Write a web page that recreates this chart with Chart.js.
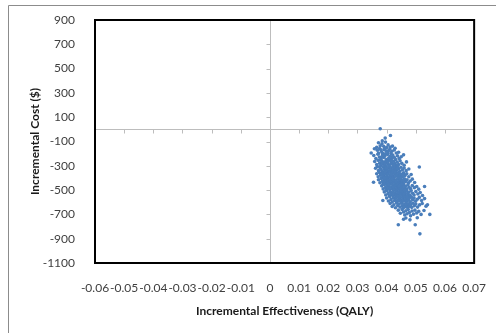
<!DOCTYPE html>
<html>
<head>
<meta charset="utf-8">
<script src="https://cdn.jsdelivr.net/npm/chart.js@4.4.1/dist/chart.umd.min.js"></script>
<style>
  html, body { margin: 0; padding: 0; background: #fff; overflow: hidden; }
  canvas { display: block; }
</style>
</head>
<body>
<canvas id="chart" width="496" height="333"></canvas>
<script>
const xTicks = [-0.06, -0.05, -0.04, -0.03, -0.02, -0.01, 0, 0.01, 0.02, 0.03, 0.04, 0.05, 0.06, 0.07];
const xTickLabels = ["-0.06", "-0.05", "-0.04", "-0.03", "-0.02", "-0.01", "0", "0.01", "0.02", "0.03", "0.04", "0.05", "0.06", "0.07"];
const yTicks = [-1100, -900, -700, -500, -300, -100, 100, 300, 500, 700, 900];

// incremental effectiveness (QALY) of each simulation
const qaly = [
  0.0378, 0.0395, 0.0413, 0.0385,
  0.0372, 0.0384, 0.0396, 0.0405, 0.0378, 0.0390, 0.0412, 0.0366, 0.0400, 0.0420,
  0.0358, 0.0368, 0.0376, 0.0383, 0.0391, 0.0398, 0.0404, 0.0411, 0.0418, 0.0426, 0.0433, 0.0441, 0.0372, 0.0387, 0.0395, 0.0407, 0.0380, 0.0415, 0.0347, 0.0429,
  0.0356, 0.0363, 0.0370, 0.0375, 0.0381, 0.0386, 0.0390, 0.0394, 0.0399, 0.0403, 0.0407, 0.0412, 0.0416, 0.0421, 0.0426, 0.0431, 0.0437, 0.0443, 0.0450, 0.0458, 0.0378, 0.0396, 0.0410, 0.0384, 0.0419,
  0.0359, 0.0366, 0.0371, 0.0376, 0.0380, 0.0384, 0.0388, 0.0391, 0.0395, 0.0398, 0.0402, 0.0405, 0.0409, 0.0413, 0.0416, 0.0420, 0.0424, 0.0428, 0.0432, 0.0436, 0.0441, 0.0446, 0.0452, 0.0460, 0.0468, 0.0393, 0.0407, 0.0418, 0.0426, 0.0385,
  0.0362, 0.0368, 0.0372, 0.0377, 0.0381, 0.0385, 0.0388, 0.0391, 0.0394, 0.0397, 0.0400, 0.0403, 0.0406, 0.0409, 0.0412, 0.0415, 0.0418, 0.0421, 0.0424, 0.0427, 0.0430, 0.0433, 0.0437, 0.0441, 0.0445, 0.0449, 0.0454, 0.0460, 0.0467, 0.0476, 0.0512, 0.0398, 0.0411, 0.0422, 0.0436,
  0.0366, 0.0371, 0.0375, 0.0379, 0.0383, 0.0386, 0.0389, 0.0392, 0.0395, 0.0398, 0.0401, 0.0404, 0.0407, 0.0410, 0.0413, 0.0416, 0.0419, 0.0422, 0.0425, 0.0428, 0.0431, 0.0434, 0.0437, 0.0440, 0.0443, 0.0446, 0.0450, 0.0454, 0.0458, 0.0463, 0.0469, 0.0476, 0.0484, 0.0402, 0.0417, 0.0429, 0.0444, 0.0393, 0.0381, 0.0455,
  0.0355, 0.0372, 0.0377, 0.0381, 0.0385, 0.0388, 0.0391, 0.0394, 0.0397, 0.0400, 0.0403, 0.0406, 0.0409, 0.0412, 0.0415, 0.0418, 0.0421, 0.0424, 0.0427, 0.0430, 0.0433, 0.0436, 0.0439, 0.0442, 0.0445, 0.0448, 0.0451, 0.0454, 0.0457, 0.0461, 0.0465, 0.0470, 0.0475, 0.0481, 0.0488, 0.0496, 0.0404, 0.0419, 0.0432, 0.0447, 0.0460, 0.0395, 0.0413,
  0.0383, 0.0388, 0.0392, 0.0396, 0.0399, 0.0402, 0.0405, 0.0408, 0.0411, 0.0414, 0.0417, 0.0420, 0.0423, 0.0426, 0.0429, 0.0432, 0.0435, 0.0438, 0.0441, 0.0444, 0.0447, 0.0450, 0.0453, 0.0456, 0.0459, 0.0462, 0.0465, 0.0469, 0.0473, 0.0477, 0.0482, 0.0488, 0.0495, 0.0503, 0.0510, 0.0530, 0.0407, 0.0421, 0.0436, 0.0451, 0.0466, 0.0443,
  0.0392, 0.0397, 0.0401, 0.0405, 0.0409, 0.0412, 0.0415, 0.0418, 0.0421, 0.0424, 0.0427, 0.0430, 0.0433, 0.0436, 0.0439, 0.0442, 0.0445, 0.0448, 0.0451, 0.0454, 0.0457, 0.0460, 0.0463, 0.0466, 0.0469, 0.0472, 0.0476, 0.0480, 0.0484, 0.0489, 0.0494, 0.0500, 0.0507, 0.0515, 0.0523, 0.0431, 0.0447, 0.0462, 0.0478, 0.0440,
  0.0400, 0.0406, 0.0411, 0.0415, 0.0419, 0.0423, 0.0427, 0.0431, 0.0435, 0.0438, 0.0441, 0.0444, 0.0447, 0.0450, 0.0453, 0.0456, 0.0459, 0.0462, 0.0465, 0.0468, 0.0471, 0.0474, 0.0477, 0.0481, 0.0485, 0.0489, 0.0494, 0.0499, 0.0505, 0.0512, 0.0520, 0.0530, 0.0387, 0.0455, 0.0470,
  0.0412, 0.0419, 0.0425, 0.0430, 0.0434, 0.0438, 0.0442, 0.0446, 0.0450, 0.0454, 0.0457, 0.0460, 0.0463, 0.0466, 0.0469, 0.0472, 0.0475, 0.0478, 0.0482, 0.0486, 0.0490, 0.0495, 0.0500, 0.0506, 0.0513, 0.0522, 0.0535, 0.0540,
  0.0440, 0.0447, 0.0453, 0.0458, 0.0462, 0.0466, 0.0470, 0.0474, 0.0478, 0.0482, 0.0487, 0.0492, 0.0497, 0.0503, 0.0510, 0.0518, 0.0528, 0.0548,
  0.0440, 0.0498, 0.0514, 0.0466, 0.0480, 0.0505, 0.0458
];

// incremental cost ($), same order as qaly
const cost = [
  5, -72, -50, -95,
  -110, -118, -105, -128, -135, -140, -145, -148, -150, -138,
  -160, -172, -158, -185, -165, -178, -192, -162, -180, -170, -195, -188, -196, -200, -155, -175, -168, -198, -195, -155,
  -215, -240, -205, -228, -245, -210, -232, -220, -248, -207, -236, -222, -244, -212, -230, -248, -218, -240, -226, -210, -250, -202, -248, -225, -235,
  -265, -290, -255, -278, -298, -262, -285, -270, -295, -258, -280, -266, -292, -255, -276, -288, -262, -282, -298, -270, -290, -258, -280, -295, -268, -282, -300, -262, -295, -275,
  -320, -305, -340, -315, -330, -348, -308, -325, -342, -312, -335, -320, -348, -305, -330, -318, -342, -310, -328, -345, -315, -336, -305, -325, -345, -312, -332, -318, -340, -326, -310, -318, -338, -348, -322,
  -365, -390, -355, -378, -398, -362, -385, -370, -395, -358, -380, -368, -392, -352, -375, -388, -360, -382, -398, -365, -385, -355, -376, -394, -362, -384, -370, -392, -358, -380, -366, -390, -372, -398, -372, -352, -400, -352, -372, -375,
  -435, -415, -440, -405, -428, -448, -412, -435, -420, -445, -408, -430, -418, -442, -402, -425, -438, -410, -432, -448, -415, -436, -405, -426, -444, -412, -434, -420, -446, -408, -430, -415, -440, -425, -410, -438, -440, -412, -428, -402, -425, -402, -430,
  -465, -490, -455, -478, -498, -462, -485, -470, -495, -452, -476, -488, -460, -482, -498, -466, -486, -455, -475, -494, -462, -484, -470, -496, -458, -480, -468, -492, -455, -476, -488, -462, -480, -470, -492, -470, -455, -472, -500, -452, -498, -468,
  -515, -540, -505, -528, -548, -512, -535, -520, -545, -502, -526, -538, -510, -532, -548, -516, -536, -505, -525, -544, -512, -534, -520, -546, -508, -530, -518, -542, -504, -526, -540, -512, -532, -520, -545, -548, -528, -502, -550, -520,
  -565, -590, -555, -578, -598, -562, -585, -570, -595, -552, -575, -588, -560, -582, -598, -566, -586, -555, -575, -594, -562, -584, -570, -596, -558, -580, -566, -592, -575, -560, -586, -570, -585, -590, -552,
  -610, -635, -620, -645, -605, -628, -615, -640, -608, -630, -648, -618, -638, -605, -626, -645, -612, -632, -620, -642, -608, -628, -615, -640, -622, -610, -632, -620,
  -665, -690, -660, -680, -705, -670, -695, -660, -685, -712, -672, -698, -665, -688, -675, -700, -668, -700,
  -785, -785, -860, -730, -745, -728, -740
];

// outer chart border, zero axes with their little tick marks, and the black plot frame
const planeDecor = {
  id: "planeDecor",
  beforeDraw(chart) {
    const ctx = chart.ctx;
    ctx.save();
    ctx.strokeStyle = "#8c8c8c";
    ctx.lineWidth = 1;
    ctx.beginPath();
    ctx.moveTo(8.5, chart.height);
    ctx.lineTo(8.5, 5.5);
    ctx.lineTo(chart.width, 5.5);
    ctx.stroke();
    ctx.restore();
  },
  beforeDatasetsDraw(chart) {
    const { ctx, chartArea: a, scales: { x, y } } = chart;
    const x0 = Math.round(x.getPixelForValue(0)) + 0.5;
    const y0 = Math.round(y.getPixelForValue(0)) + 0.5;
    ctx.save();
    ctx.strokeStyle = "#bdbdbd";
    ctx.lineWidth = 1;
    ctx.beginPath();
    ctx.moveTo(a.left, y0);
    ctx.lineTo(a.right, y0);
    ctx.moveTo(x0, a.top);
    ctx.lineTo(x0, a.bottom);
    xTicks.forEach(v => {
      const px = Math.round(x.getPixelForValue(v)) + 0.5;
      ctx.moveTo(px, y0);
      ctx.lineTo(px, y0 + 4);
    });
    yTicks.forEach(v => {
      const py = Math.round(y.getPixelForValue(v)) + 0.5;
      ctx.moveTo(x0 - 4, py);
      ctx.lineTo(x0, py);
    });
    ctx.stroke();
    ctx.restore();
  },
  afterDraw(chart) {
    const { ctx, chartArea: a } = chart;
    ctx.save();
    ctx.strokeStyle = "#000";
    ctx.lineWidth = 2;
    ctx.strokeRect(a.left, a.top, a.right - a.left, a.bottom - a.top);
    ctx.restore();
  }
};

Chart.defaults.font.family = "Lato, 'Open Sans', sans-serif";
Chart.defaults.color = "#404040";

new Chart(document.getElementById("chart"), {
  type: "scatter",
  data: {
    datasets: [{
      label: "Simulations",
      data: qaly.map((q, i) => ({ x: q, y: cost[i] })),
      pointRadius: 1.8,
      pointBackgroundColor: "#4a7ebb",
      pointBorderWidth: 0,
      pointHoverRadius: 1.8
    }]
  },
  options: {
    responsive: false,
    animation: false,
    devicePixelRatio: 1,
    layout: { padding: { top: 20, right: 19, left: 0, bottom: 0 } },
    plugins: {
      legend: { display: false },
      tooltip: { enabled: false }
    },
    scales: {
      x: {
        type: "linear",
        min: -0.06,
        max: 0.07,
        afterBuildTicks: s => { s.ticks = xTicks.map(v => ({ value: v })); },
        afterFit: s => { s.height = 70; },
        grid: { display: false },
        border: { display: false },
        ticks: {
          autoSkip: false,
          maxRotation: 0,
          minRotation: 0,
          padding: 10,
          font: { size: 12 },
          callback: (v, i) => xTickLabels[i]
        },
        title: {
          display: true,
          text: "Incremental Effectiveness (QALY)",
          color: "#1a1a1a",
          font: { size: 12, weight: "bold" },
          padding: { top: 0, bottom: 15 }
        }
      },
      y: {
        type: "linear",
        min: -1100,
        max: 900,
        afterBuildTicks: s => { s.ticks = yTicks.map(v => ({ value: v })); },
        afterFit: s => { s.width = 95; },
        grid: { display: false },
        border: { display: false },
        ticks: {
          autoSkip: false,
          padding: 12,
          font: { size: 12 },
          callback: v => String(v)
        },
        title: {
          display: true,
          text: "Incremental Cost ($)",
          color: "#1a1a1a",
          font: { size: 12, weight: "bold" },
          padding: { top: 28, bottom: 0 }
        }
      }
    }
  },
  plugins: [planeDecor]
});
</script>
</body>
</html>
